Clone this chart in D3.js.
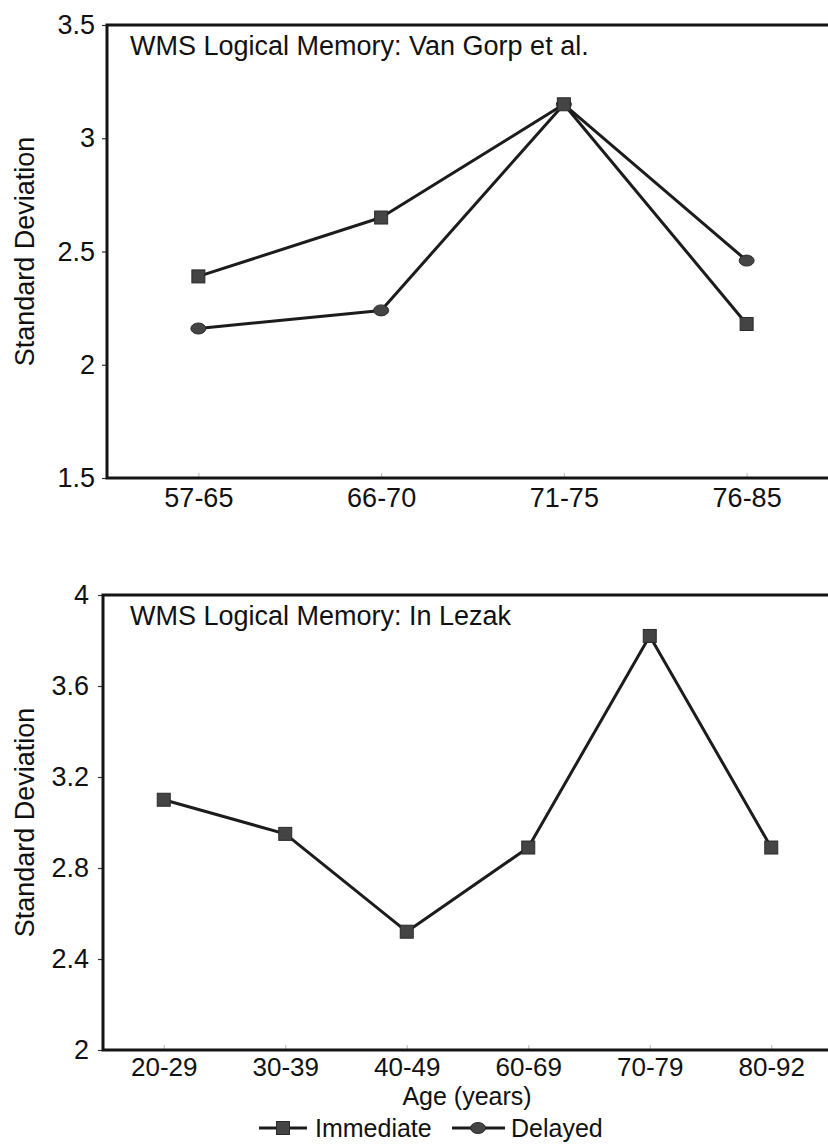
<!DOCTYPE html>
<html>
<head>
<meta charset="utf-8">
<script src="https://cdn.jsdelivr.net/npm/d3@7"></script>
<style>
  html, body { margin: 0; padding: 0; background: #fff; }
  svg { display: block; }
  text { font-family: "Liberation Sans", Arial, Helvetica, sans-serif; fill: #111; }
</style>
</head>
<body>
<svg id="chart" width="828" height="1147"></svg>
<script>
// Van Gorp et al. panel
const groupsTop = ["57-65", "66-70", "71-75", "76-85"];
const immediateTop = [2.39, 2.65, 3.15, 2.18];
const delayedTop = [2.16, 2.24, 3.15, 2.46];
const ticksTop = [1.5, 2, 2.5, 3, 3.5];
const titleTop = "WMS Logical Memory: Van Gorp et al.";

// Lezak panel
const groupsBottom = ["20-29", "30-39", "40-49", "60-69", "70-79", "80-92"];
const immediateBottom = [3.10, 2.95, 2.52, 2.89, 3.82, 2.89];
const ticksBottom = [2, 2.4, 2.8, 3.2, 3.6, 4];
const titleBottom = "WMS Logical Memory: In Lezak";

const yLabel = "Standard Deviation";
const xLabel = "Age (years)";
const legendLabels = ["Immediate", "Delayed"];

const svg = d3.select("#chart");
const FONT = 27;
const LINE = "#1c1c1c";
const MARK = "#444";

function square(g, x, y) {
  g.append("rect")
    .attr("x", x - 6.5).attr("y", y - 6.5)
    .attr("width", 13).attr("height", 13)
    .attr("fill", MARK).attr("stroke", "#2a2a2a").attr("stroke-width", 1);
}
function dot(g, x, y) {
  g.append("ellipse")
    .attr("cx", x).attr("cy", y).attr("rx", 7.5).attr("ry", 5.5)
    .attr("fill", MARK).attr("stroke", "#2a2a2a").attr("stroke-width", 1);
}

function panel(cfg) {
  const g = svg.append("g");
  const x = d3.scalePoint().domain(cfg.groups).range([cfg.left, cfg.right]).padding(0.5);
  const y = d3.scaleLinear().domain(cfg.domain).range([cfg.bottom, cfg.top]);

  // y axis ticks and labels
  const ya = g.append("g")
    .attr("transform", `translate(${cfg.left},0)`)
    .call(d3.axisLeft(y).tickValues(cfg.ticks).tickSize(5).tickPadding(cfg.pad)
      .tickFormat(d => d3.format("")(d)));
  ya.select(".domain").remove();
  ya.selectAll("line").attr("stroke", "#333").attr("stroke-width", 1.2);
  ya.selectAll("text").attr("font-size", FONT).style("font-family", "Liberation Sans, Arial, sans-serif").attr("fill", "#111");

  // x axis labels with faint inner ticks
  const xa = g.append("g")
    .attr("transform", `translate(0,${cfg.bottom})`)
    .call(d3.axisBottom(x).tickSizeInner(-5).tickSizeOuter(0).tickPadding(cfg.xPad));
  xa.select(".domain").remove();
  xa.selectAll("line").attr("stroke", "#bbb").attr("stroke-width", 1);
  xa.selectAll("text").attr("font-size", cfg.xFont).attr("dy", "0.71em")
    .style("font-family", "Liberation Sans, Arial, sans-serif").attr("fill", "#111");

  // frame: top, left, bottom (right side runs past the page)
  g.append("path")
    .attr("d", `M${cfg.right + 20},${cfg.top}H${cfg.left}V${cfg.bottom}H${cfg.right + 20}`)
    .attr("fill", "none").attr("stroke", "#141414").attr("stroke-width", 3);

  // panel title
  g.append("text").attr("x", cfg.titleX).attr("y", cfg.top + 30)
    .attr("font-size", FONT).text(cfg.title);

  // y axis title
  g.append("text")
    .attr("transform", `translate(34,${(cfg.top + cfg.bottom) / 2}) rotate(-90)`)
    .attr("text-anchor", "middle").attr("font-size", FONT).text(yLabel);

  const line = d3.line().x((d, i) => x(cfg.groups[i])).y(d => y(d));
  cfg.series.forEach(s => {
    g.append("path").datum(s.values).attr("d", line)
      .attr("fill", "none").attr("stroke", LINE).attr("stroke-width", 3)
      .attr("stroke-linejoin", "round");
  });
  cfg.series.forEach(s => {
    s.values.forEach((v, i) => {
      if (s.shape === "square") square(g, x(cfg.groups[i]), y(v));
      else dot(g, x(cfg.groups[i]), y(v));
    });
  });
  return { x, y };
}

// delayed is drawn first so the immediate squares sit on top at shared points
panel({
  groups: groupsTop, domain: [1.5, 3.5], ticks: ticksTop, title: titleTop,
  left: 107, right: 838, top: 25, bottom: 478, pad: 7, titleX: 130,
  xPad: 10, xFont: FONT,
  series: [
    { values: delayedTop, shape: "dot" },
    { values: immediateTop, shape: "square" }
  ]
});

panel({
  groups: groupsBottom, domain: [2, 4], ticks: ticksBottom, title: titleBottom,
  left: 103, right: 832, top: 595, bottom: 1050, pad: 9, titleX: 130,
  xPad: 8, xFont: 26,
  series: [
    { values: immediateBottom, shape: "square" }
  ]
});

// x axis title
svg.append("text").attr("x", 467).attr("y", 1105)
  .attr("text-anchor", "middle").attr("font-size", 25).text(xLabel);

// legend
const lg = svg.append("g");
const ly = 1128;
lg.append("line").attr("x1", 259).attr("x2", 307).attr("y1", ly).attr("y2", ly)
  .attr("stroke", LINE).attr("stroke-width", 3);
square(lg, 283, ly);
lg.append("text").attr("x", 315).attr("y", ly + 9).attr("font-size", 25).text(legendLabels[0]);
lg.append("line").attr("x1", 452).attr("x2", 505).attr("y1", ly).attr("y2", ly)
  .attr("stroke", LINE).attr("stroke-width", 3);
dot(lg, 478, ly);
lg.append("text").attr("x", 511).attr("y", ly + 9).attr("font-size", 25).text(legendLabels[1]);
</script>
</body>
</html>
